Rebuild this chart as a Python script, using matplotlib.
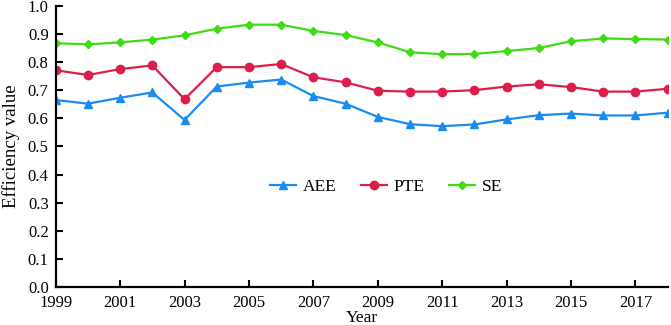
import numpy as np
import matplotlib
matplotlib.use('Agg')
import matplotlib.pyplot as plt

plt.rcParams['font.family'] = ['Liberation Serif', 'DejaVu Serif']

years = list(range(1999, 2019))
aee = [0.665, 0.652, 0.673, 0.692, 0.594, 0.713, 0.727, 0.738, 0.679, 0.652,
       0.605, 0.579, 0.572, 0.578, 0.596, 0.611, 0.617, 0.610, 0.610, 0.620]
pte = [0.771, 0.754, 0.775, 0.788, 0.668, 0.782, 0.782, 0.793, 0.746, 0.728,
       0.698, 0.695, 0.695, 0.700, 0.713, 0.721, 0.711, 0.695, 0.695, 0.705]
se = [0.867, 0.863, 0.870, 0.880, 0.895, 0.919, 0.933, 0.933, 0.911, 0.896,
      0.870, 0.835, 0.828, 0.829, 0.839, 0.850, 0.874, 0.884, 0.882, 0.880]

fig = plt.figure(figsize=(6.71, 3.25), dpi=100)
ax = fig.add_axes([0.083, 0.117, 0.912, 0.865])

ax.plot(years, aee, color='#1a8cf0', marker='^', markersize=6, lw=1.6, label='AEE')
ax.plot(years, pte, color='#dc1f4a', marker='o', markersize=6, lw=1.6, label='PTE')
ax.plot(years, se, color='#3ddc14', marker='D', markersize=4, lw=1.6, label='SE')

ax.set_xlim(1999, 2018)
ax.set_ylim(0, 1.0)
ax.set_xticks(range(1999, 2018, 2))
ax.set_yticks(np.arange(0, 1.01, 0.1))
ax.set_yticklabels(['%.1f' % v for v in np.arange(0, 1.01, 0.1)])
ax.tick_params(direction='in', length=5, width=1.5, labelsize=12)
ax.tick_params(axis='x', pad=6)
ax.tick_params(axis='y', pad=5)
for s in ['top', 'right']:
    ax.spines[s].set_visible(False)
for s in ['left', 'bottom']:
    ax.spines[s].set_linewidth(1.6)

ax.set_xlabel('Year', fontsize=12.5, labelpad=-1)
ax.set_ylabel('Efficiency value', fontsize=13.5, labelpad=6)

ax.legend(loc='center', bbox_to_anchor=(0.54, 0.356), ncol=3, frameon=False,
          fontsize=12.5, handlelength=1.5, handletextpad=0.4, columnspacing=1.4)

fig.savefig('out.png', dpi=100)
